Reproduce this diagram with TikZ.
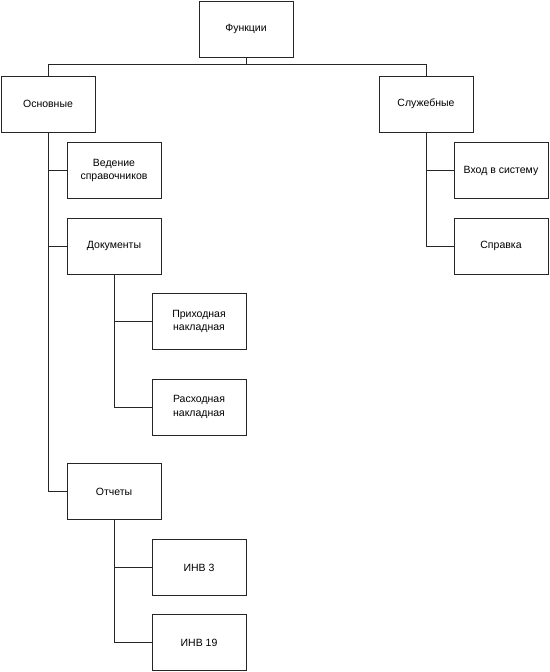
\documentclass[tikz,border=0pt]{standalone}
\usepackage{fontspec}
\setmainfont{Liberation Sans}
\begin{document}
\begin{tikzpicture}[x=1pt,y=-1pt,
  box/.style={draw=black!85,line width=1pt,minimum width=94pt,minimum height=56pt,inner sep=1pt,align=center,font=\fontsize{10.5}{13.5}\selectfont,fill=white},
  conn/.style={draw=black!85,line width=1pt}]
\useasboundingbox (0,0) rectangle (549,672);
\node[box] (f) at (246,29) {Функции};
\node[box] (osn) at (48,104) {Основные};
\node[box] (sl) at (426,104) {Служебные};
\node[box] (ved) at (114,170.5) {Ведение\\справочников};
\node[box] (doc) at (114,246) {Документы};
\node[box] (prih) at (199,321.5) {Приходная\\накладная};
\node[box] (rash) at (199,407) {Расходная\\накладная};
\node[box] (otch) at (114,491.5) {Отчеты};
\node[box] (inv3) at (199,567.5) {ИНВ 3};
\node[box] (inv19) at (199,642.5) {ИНВ 19};
\node[box] (vhod) at (501,170.5) {Вход в систему};
\node[box] (spr) at (501,246) {Справка};
\coordinate (bus) at (246,64);
\draw[conn] (f.south) -- (bus);
\draw[conn] (bus) -| (osn.north);
\draw[conn] (bus) -| (sl.north);
\draw[conn] (osn.south) |- (ved.west);
\draw[conn] (osn.south) |- (doc.west);
\draw[conn] (osn.south) |- (otch.west);
\draw[conn] (doc.south) |- (prih.west);
\draw[conn] (doc.south) |- (rash.west);
\draw[conn] (otch.south) |- (inv3.west);
\draw[conn] (otch.south) |- (inv19.west);
\draw[conn] (sl.south) |- (vhod.west);
\draw[conn] (sl.south) |- (spr.west);
\end{tikzpicture}
\end{document}
